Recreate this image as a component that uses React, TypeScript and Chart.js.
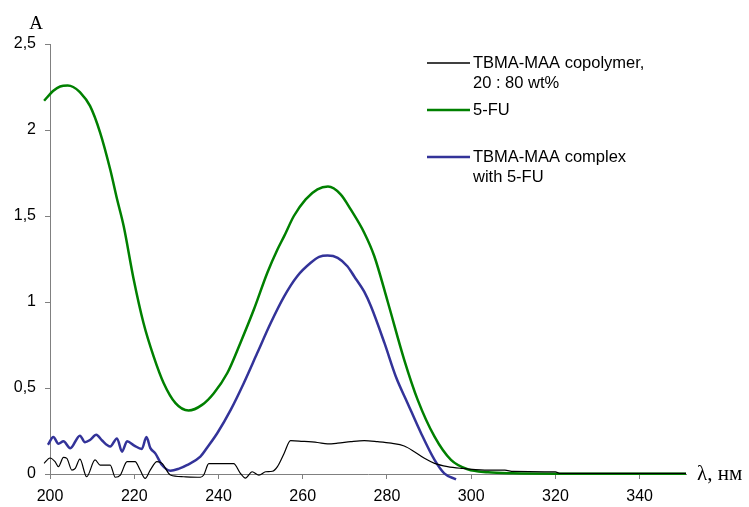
import React, { useEffect, useRef } from "react";
import { Chart, registerables } from "chart.js";

Chart.register(...registerables);

// 5-FU (green)
const waveFU = [198.6, 200.8, 202.4, 204.2, 205.5, 207.1, 209.5, 211.9, 214.3, 215.9, 217.5, 219.8, 222.2, 224.6, 227, 229.8, 232.9, 236.1, 238.9, 242.1, 245.2, 248.4, 251.6, 254, 255.6, 257.9, 260.7, 263.5, 266, 269, 271.4, 274.6, 277, 280.2, 284.1, 287.3, 291.3, 295.2, 299.2, 304, 310, 320, 330, 340, 351];
const absFU = [2.17, 2.228, 2.253, 2.258, 2.25, 2.22, 2.14, 1.985, 1.77, 1.6, 1.44, 1.14, 0.878, 0.684, 0.528, 0.412, 0.369, 0.402, 0.47, 0.587, 0.762, 0.956, 1.17, 1.305, 1.383, 1.5, 1.597, 1.655, 1.671, 1.626, 1.538, 1.403, 1.266, 1.0, 0.664, 0.431, 0.217, 0.082, 0.027, 0.01, 0.004, 0.002, 0.002, 0.002, 0.002];

// TBMA-MAA complex with 5-FU (blue)
const waveComplex = [198.6, 199.5, 200.8, 202, 203.2, 204.8, 207.1, 208.3, 209.5, 211, 212.3, 214.3, 215.9, 217.1, 218.3, 220, 221.8, 222.9, 223.8, 225, 226.6, 228.6, 230.5, 232.5, 235.7, 237.5, 239.7, 242.9, 246, 249.2, 252.4, 255.6, 258.7, 261.9, 263.9, 265.9, 268.3, 270.6, 272.2, 274.6, 276.2, 279.4, 282.1, 284.9, 288.1, 291.3, 293.6, 296.4];
const absComplex = [0.14, 0.17, 0.215, 0.176, 0.19, 0.15, 0.223, 0.185, 0.198, 0.228, 0.196, 0.16, 0.207, 0.13, 0.19, 0.165, 0.145, 0.215, 0.152, 0.12, 0.052, 0.019, 0.03, 0.052, 0.101, 0.16, 0.237, 0.373, 0.528, 0.703, 0.878, 1.033, 1.15, 1.228, 1.262, 1.27, 1.257, 1.208, 1.15, 1.06, 0.975, 0.762, 0.567, 0.412, 0.237, 0.082, 0.004, -0.031];

// TBMA-MAA copolymer 20:80 wt% (black)
const waveCopolymer = [198.6, 200, 201.2, 202, 203.2, 204, 205.2, 206, 207.1, 208.7, 210.7, 211.9, 214.3, 215.5, 216.7, 218.3, 220.2, 221.4, 222.6, 223.8, 225.4, 226.6, 228.6, 231.7, 235.7, 236.5, 237.7, 243.6, 245.2, 246.4, 248, 249.6, 251.2, 252.8, 254, 255.6, 257.1, 259.9, 263.5, 265.9, 268.3, 271.4, 274.6, 277.8, 281, 284.1, 286.5, 288.9, 291.3, 294.4, 297.6, 303.2, 308, 310, 320, 321, 351];
const absCopolymer = [0.062, 0.093, 0.072, 0.043, 0.097, 0.091, 0.023, 0.033, 0.086, -0.016, 0.082, 0.052, 0.052, -0.019, -0.006, 0.072, 0.072, 0.023, -0.025, 0.023, 0.072, 0.062, -0.006, -0.016, -0.019, -0.006, 0.06, 0.06, 0.004, -0.024, 0.013, -0.006, 0.013, 0.016, 0.043, 0.121, 0.194, 0.19, 0.183, 0.175, 0.179, 0.188, 0.194, 0.188, 0.179, 0.163, 0.13, 0.091, 0.062, 0.043, 0.033, 0.023, 0.022, 0.015, 0.012, 0.004, 0.004];

const xTicks = [200, 220, 240, 260, 280, 300, 320, 340];
const yTicks = [0, 0.5, 1, 1.5, 2, 2.5];

const labelCopolymer = ["TBMA-MAA copolymer,", "20 : 80 wt%"];
const labelFU = ["5-FU"];
const labelComplex = ["TBMA-MAA complex", "with 5-FU"];

const yAxisTitle = "A";
const xAxisTitle = "λ, нм";

const toPoints = (xs: number[], ys: number[]) => xs.map((x, i) => ({ x, y: ys[i] }));

const SANS = "'Liberation Sans', Arial, sans-serif";
const SERIF = "'Liberation Serif', 'Times New Roman', serif";

const legendPlugin = {
  id: "customLegend",
  afterDraw(chart: any) {
    const ctx = chart.ctx;
    const rows = [63, 110, 157];
    ctx.save();
    chart.data.datasets.forEach((ds: any, i: number) => {
      const y = rows[i];
      ctx.strokeStyle = ds.borderColor;
      ctx.lineWidth = ds.legendLineWidth;
      ctx.beginPath();
      ctx.moveTo(427, y);
      ctx.lineTo(470, y);
      ctx.stroke();
      ctx.fillStyle = "#000";
      ctx.font = `16.5px ${SANS}`;
      ctx.textAlign = "left";
      ctx.textBaseline = "middle";
      const lines: string[] = ds.label;
      lines.forEach((t, j) => ctx.fillText(t, 473, y + j * 20));
    });
    ctx.font = `19px ${SERIF}`;
    ctx.textAlign = "center";
    ctx.textBaseline = "alphabetic";
    ctx.fillText(yAxisTitle, 36, 29);
    ctx.font = `21px ${SERIF}`;
    ctx.textAlign = "left";
    ctx.fillText(xAxisTitle, 697, 480);
    ctx.restore();
  },
};

export default function App() {
  const ref = useRef<HTMLCanvasElement>(null);
  useEffect(() => {
    if (!ref.current) return;
    const chart = new Chart(ref.current, {
      type: "line",
      data: {
        datasets: [
          {
            label: labelCopolymer as any,
            data: toPoints(waveCopolymer, absCopolymer),
            borderColor: "#000000",
            borderWidth: 1.2,
            legendLineWidth: 1.5,
            pointRadius: 0,
            cubicInterpolationMode: "monotone",
            clip: false,
          } as any,
          {
            label: labelFU as any,
            data: toPoints(waveFU, absFU),
            borderColor: "#008000",
            borderWidth: 2.5,
            legendLineWidth: 2.5,
            pointRadius: 0,
            cubicInterpolationMode: "monotone",
            clip: false,
          } as any,
          {
            label: labelComplex as any,
            data: toPoints(waveComplex, absComplex),
            borderColor: "#333399",
            borderWidth: 2.5,
            legendLineWidth: 2.5,
            pointRadius: 0,
            cubicInterpolationMode: "monotone",
            clip: false,
          } as any,
        ],
      },
      options: {
        responsive: false,
        animation: false,
        layout: { padding: { top: 44, right: 63, bottom: 0, left: 0 } },
        plugins: { legend: { display: false }, tooltip: { enabled: false }, title: { display: false } },
        scales: {
          x: {
            type: "linear",
            min: 200,
            max: 351,
            afterBuildTicks: (s: any) => {
              s.ticks = xTicks.map((v) => ({ value: v }));
            },
            afterFit: (s: any) => {
              s.height = 33;
            },
            ticks: {
              includeBounds: false,
              autoSkip: false,
              maxRotation: 0,
              color: "#000",
              padding: 8,
              font: { family: SANS, size: 16 },
            },
            grid: { drawOnChartArea: false, drawTicks: true, tickLength: 5, color: "#808080" },
            border: { display: true, color: "#808080", width: 1 },
          },
          y: {
            type: "linear",
            min: 0,
            max: 2.5,
            afterBuildTicks: (s: any) => {
              s.ticks = yTicks.map((v) => ({ value: v }));
            },
            afterFit: (s: any) => {
              s.width = 50;
            },
            ticks: {
              color: "#000",
              padding: 9,
              font: { family: SANS, size: 16 },
              callback: (v: any) => String(v).replace(".", ","),
            },
            grid: { drawOnChartArea: false, drawTicks: true, tickLength: 5, color: "#808080" },
            border: { display: true, color: "#808080", width: 1 },
          },
        },
      } as any,
      plugins: [legendPlugin],
    });
    return () => chart.destroy();
  }, []);
  return (
    <div style={{ position: "absolute", left: 0, top: 0, width: 749, height: 507, background: "#fff" }}>
      <canvas ref={ref} width={749} height={507} style={{ display: "block" }} />
    </div>
  );
}
